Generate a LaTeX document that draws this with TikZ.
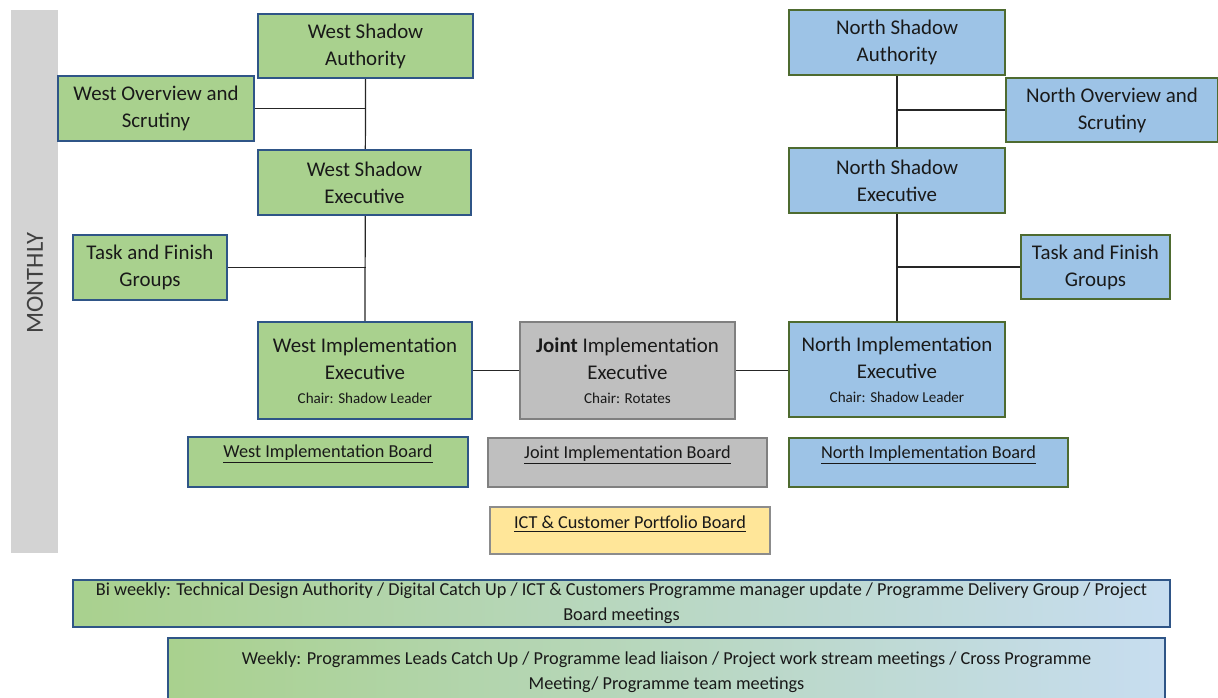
\documentclass[tikz,border=0pt]{standalone}
\usepackage{fontspec}
\setmainfont{Carlito}
\usetikzlibrary{backgrounds}

\definecolor{westgreen}{RGB}{169,209,142}
\definecolor{northblue}{RGB}{157,195,230}
\definecolor{jointgray}{RGB}{191,191,191}
\definecolor{ictyellow}{RGB}{255,230,153}
\definecolor{barblue}{RGB}{199,221,240}
\definecolor{barmid}{RGB}{176,207,222}
\definecolor{edgeblue}{RGB}{47,85,135}
\definecolor{edgegreen}{RGB}{78,107,48}
\definecolor{monthgray}{RGB}{211,211,211}

\tikzset{
  unit/.style={inner sep=0pt, align=center, text=black!90,
    font=\fontsize{11.9}{15.4}\selectfont},
  westbox/.style={unit, fill=westgreen, draw=edgeblue, line width=0.8pt},
  northbox/.style={unit, fill=northblue, draw=edgegreen, line width=0.8pt},
  jointbox/.style={unit, fill=jointgray, draw=black!50, line width=0.8pt},
  boardlabel/.style={font=\fontsize{10.4}{13}\selectfont, text=black!90},
  barbox/.style={unit, draw=edgeblue, line width=0.8pt,
    left color=westgreen, middle color=barmid, right color=barblue,
    font=\fontsize{10.4}{14.2}\selectfont},
  link/.style={draw=black!85, line width=0.7pt},
  size/.style 2 args={minimum width=#1cm, minimum height=#2cm}
}
\newcommand{\chairline}[1]{{\fontsize{8.6}{10}\selectfont #1}}

\begin{document}
\begin{tikzpicture}[x=0.02cm, y=-0.02cm]
  \useasboundingbox (0,0) rectangle (1218,697);

  % monthly band
  \fill[monthgray] (11,10) rectangle (58,553);
  \node[rotate=90, font=\fontsize{14}{16}\selectfont, text=black!75] (month) at (35,283) {MONTHLY};

  % west side
  \node[westbox, size={4.30}{1.28}] (wsa) at (365.5,46) {West Shadow\\Authority};
  \node[westbox, size={3.92}{1.30}] (wos) at (156,108.5) {West Overview and\\Scrutiny};
  \node[westbox, size={4.26}{1.30}] (wse) at (364.5,182.5) {West Shadow\\Executive};
  \node[westbox, size={3.08}{1.30}] (wtf) at (150,267.5) {Task and Finish\\Groups};
  \node[westbox, size={4.28}{1.94}] (wie) at (365,370.5) {West Implementation\\Executive\\[-2pt]\chairline{Chair: Shadow Leader}};

  % joint
  \node[jointbox, size={4.30}{1.94}] (jie) at (627.5,370.5) {\textbf{Joint} Implementation\\Executive\\[-2pt]\chairline{Chair: Rotates}};

  % north side
  \node[northbox, size={4.32}{1.30}] (nsa) at (897,42.5) {North Shadow\\Authority};
  \node[northbox, size={4.24}{1.28}] (nos) at (1112,110) {North Overview and\\Scrutiny};
  \node[northbox, size={4.32}{1.30}] (nse) at (897,180.5) {North Shadow\\Executive};
  \node[northbox, size={2.98}{1.28}] (ntf) at (1095.5,267) {Task and Finish\\Groups};
  \node[northbox, size={4.32}{1.90}] (nie) at (897,369.5) {North Implementation\\Executive\\[-2pt]\chairline{Chair: Shadow Leader}};

  % boards
  \node[westbox, size={5.60}{1.00}] (wib) at (328,462) {};
  \node[jointbox, size={5.58}{0.98}] (jib) at (627.5,462.5) {};
  \node[northbox, size={5.58}{0.98}] (nib) at (928.5,462.5) {};
  \node[unit, fill=ictyellow, draw=black!45, line width=0.8pt, size={5.60}{0.94}] (icb) at (630,530.5) {};
  \node[boardlabel, yshift=-3.6mm] (wibt) at (wib.north) {\underline{West Implementation Board}};
  \node[boardlabel, yshift=-3.6mm] (jibt) at (jib.north) {\underline{Joint Implementation Board}};
  \node[boardlabel, yshift=-3.6mm] (nibt) at (nib.north) {\underline{North Implementation Board}};
  \node[boardlabel, yshift=-3.6mm] (icbt) at (icb.north) {\underline{ICT \& Customer Portfolio Board}};

  % meeting bars
  \node[barbox, size={21.94}{0.94}] (biw) at (621.5,603.5) {Bi weekly: Technical Design Authority / Digital Catch Up / ICT \& Customers Programme manager update / Programme Delivery Group / Project\\Board meetings};
  \node[barbox, size={19.94}{1.36}] (wkl) at (666.5,672) {Weekly: Programmes Leads Catch Up / Programme lead liaison / Project work stream meetings / Cross Programme\\Meeting/ Programme team meetings};

  % connectors
  \begin{pgfonlayer}{background}
    \draw[link] (wsa.south) -- (wie.north);
    \draw[link] (wos.east) -- (wos.east -| wsa.south);
    \draw[link] (wtf.east) -- (wtf.east -| wsa.south);
    \draw[link] (wie.east) -- (jie.west);
    \draw[link] (jie.east) -- (jie.east -| nie.west);
    \draw[link] (nsa.south) -- (nie.north);
    \draw[link] (nos.west) -- (nos.west -| nsa.south);
    \draw[link] (ntf.west) -- (ntf.west -| nsa.south);
  \end{pgfonlayer}
\end{tikzpicture}
\end{document}
